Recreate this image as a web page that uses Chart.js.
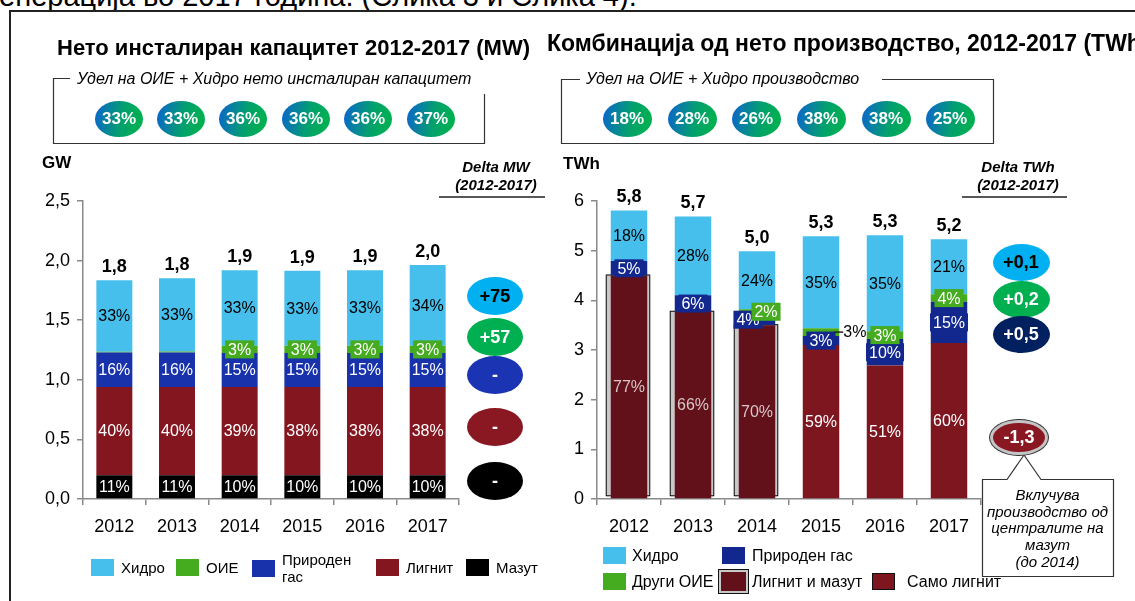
<!DOCTYPE html>
<html>
<head>
<meta charset="utf-8">
<title>Капацитет и производство 2012-2017</title>
<script src="https://cdn.jsdelivr.net/npm/chart.js@4.4.1/dist/chart.umd.min.js"></script>
<style>
  body { margin:0; width:1135px; height:601px; overflow:hidden; position:relative; background:#fff;
         font-family:"Liberation Sans", Arial, sans-serif; color:#000; }
  .abs { position:absolute; white-space:nowrap; }
  #lines { position:absolute; left:0; top:0; }
  .title { font-weight:bold; font-size:22px; line-height:26px; }
  .boxlabel { font-style:italic; font-size:16px; line-height:18px; }
  .unit { font-weight:bold; font-size:17px; }
  .delta-head { font-weight:bold; font-style:italic; font-size:15px; text-align:center; line-height:18px; width:130px; }
  .oval { position:absolute; box-sizing:border-box; border-radius:50%; display:flex; align-items:center;
          justify-content:center; font-weight:bold; }
  .leg { position:absolute; display:flex; align-items:center; white-space:nowrap; }
  .sw { display:inline-block; width:23px; height:17px; box-sizing:border-box; }
  .note { font-style:italic; font-size:15px; line-height:16.7px; text-align:center; width:131px; }
  canvas { position:absolute; }
</style>
</head>
<body>
<div class="abs" style="left:-1px;top:-18px;font-size:29px;line-height:29px;">енерација во 2017 година. (Слика 3 и Слика 4).</div>

<canvas id="capChart" width="560" height="400" style="left:0;top:150px;"></canvas>
<canvas id="genChart" width="600" height="400" style="left:510px;top:150px;"></canvas>

<svg id="lines" width="1135" height="601">
  <path d="M9 11 H1135 M10 11 V601" stroke="#222" stroke-width="2" fill="none"/>
  <path d="M70 78.5 H53.5 V143.5 H484.5 V94" stroke="#333" stroke-width="1.2" fill="none"/>
  <path d="M580 79.5 H561.5 V143.5 H993.5 V79.5 H882" stroke="#333" stroke-width="1.2" fill="none"/>
  <path d="M439 197 H545 M962 197 H1067" stroke="#222" stroke-width="1.5"/>
  <path d="M982.5 479.5 H1007 L1024 455 L1041 479.5 H1113.5 V576.5 H982.5 Z" stroke="#333" stroke-width="1.2" fill="#fff"/>
</svg>

<div class="abs title" style="left:57px;top:35px;">Нето инсталиран капацитет 2012-2017 (MW)</div>
<div class="abs title" style="left:547px;top:30px;font-size:23px;">Комбинација од нето производство, 2012-2017 (TWh)</div>
<div class="abs boxlabel" style="left:77px;top:70px;">Удел на ОИЕ + Хидро нето инсталиран капацитет</div>
<div class="abs boxlabel" style="left:586px;top:70px;">Удел на ОИЕ + Хидро производство</div>
<div class="abs unit" style="left:42px;top:153px;">GW</div>
<div class="abs unit" style="left:563px;top:154px;">TWh</div>
<div class="abs delta-head" style="left:431px;top:158px;">Delta MW<br>(2012-2017)</div>
<div class="abs delta-head" style="left:953px;top:158px;">Delta TWh<br>(2012-2017)</div>
<div class="abs note" style="left:982px;top:487px;">Вклучува<br>производство од<br>централите на<br>мазут<br>(до 2014)</div>

<script>
// ---- data: net installed capacity (GW)
const years = ['2012', '2013', '2014', '2015', '2016', '2017'];
const capTickLabels = ['0,0', '0,5', '1,0', '1,5', '2,0', '2,5'];
const capMazut   = [0.20, 0.20, 0.20, 0.20, 0.20, 0.20];
const capLignite = [0.74, 0.74, 0.74, 0.74, 0.74, 0.74];
const capGas     = [0.29, 0.29, 0.285, 0.285, 0.285, 0.285];
const capOie     = [0.005, 0.007, 0.06, 0.06, 0.06, 0.06];
const capHydro   = [0.60, 0.615, 0.635, 0.63, 0.635, 0.678];
const capMazutPct   = ['11%', '11%', '10%', '10%', '10%', '10%'];
const capLignitePct = ['40%', '40%', '39%', '38%', '38%', '38%'];
const capGasPct     = ['16%', '16%', '15%', '15%', '15%', '15%'];
const capOiePct     = [null, null, '3%', '3%', '3%', '3%'];
const capHydroPct   = ['33%', '33%', '33%', '33%', '33%', '34%'];
const capTotals = ['1,8', '1,8', '1,9', '1,9', '1,9', '2,0'];
const capShare  = ['33%', '33%', '36%', '36%', '36%', '37%'];
const capDelta  = ['+75', '+57', '-', '-', '-'];

// ---- data: net generation (TWh)
const genTickLabels = ['0', '1', '2', '3', '4', '5', '6'];
const genLigMazut = [4.50, 3.77, 3.50, null, null, null];
const genLignite  = [null, null, null, 3.10, 2.69, 3.14];
const genGas      = [0.29, 0.33, 0.22, 0.18, 0.53, 0.83];
const genOie      = [0.00, 0.00, 0.10, 0.16, 0.16, 0.15];
const genHydro    = [1.02, 1.59, 1.17, 1.85, 1.93, 1.11];
const genLigMazutPct = ['77%', '66%', '70%', null, null, null];
const genLignitePct  = [null, null, null, '59%', '51%', '60%'];
const genGasPct      = ['5%', '6%', '4%', '3%', '10%', '15%'];
const genOiePct      = [null, null, '2%', '3%', '3%', '4%'];
const genHydroPct    = ['18%', '28%', '24%', '35%', '35%', '21%'];
const genTotals = ['5,8', '5,7', '5,0', '5,3', '5,3', '5,2'];
const genShare  = ['18%', '28%', '26%', '38%', '38%', '25%'];
const genDelta  = ['+0,1', '+0,2', '+0,5', '-1,3'];

const col = {
  hydro: '#46bfec', oie: '#45ab1f', gasL: '#1732ab', lignL: '#841620', mazut: '#000000',
  gasR: '#13288e', ligR: '#7e1620', ligMaz: '#62101a', gray: '#c8c8c8'
};
const FONT = '"Liberation Sans", Arial, sans-serif';

// labels inside the stacked segments + totals on top
const segmentLabels = {
  id: 'segmentLabels',
  afterDatasetsDraw(chart) {
    const ctx = chart.ctx;
    ctx.save();
    ctx.textAlign = 'center';
    ctx.textBaseline = 'middle';
    ctx.font = '16px ' + FONT;
    chart.data.datasets.forEach((ds, di) => {
      const st = ds.labelStyle || {};
      chart.getDatasetMeta(di).data.forEach((bar, i) => {
        const txt = ds.pctLabels && ds.pctLabels[i];
        if (!txt) return;
        const nudge = (st.nudge && st.nudge[i]) || [0, 0];
        const x = bar.x + nudge[0];
        const y = (bar.y + bar.base) / 2 + nudge[1];
        if (st.outside && st.outside[i]) {
          const r = bar.x + bar.width / 2;
          ctx.strokeStyle = '#222';
          ctx.lineWidth = 1.5;
          ctx.beginPath(); ctx.moveTo(r - 5, y); ctx.lineTo(r + 4, y); ctx.stroke();
          ctx.fillStyle = '#000';
          ctx.textAlign = 'left';
          ctx.fillText(txt, r + 4, y);
          ctx.textAlign = 'center';
          return;
        }
        if (st.box) {
          const w = ctx.measureText(txt).width + 6;
          ctx.fillStyle = st.box;
          ctx.fillRect(x - w / 2, y - 9, w, 18);
        }
        ctx.fillStyle = st.color || '#000';
        ctx.fillText(txt, x, y + 1);
      });
    });
    const totals = chart.options.plugins.segmentLabels.totals;
    ctx.font = 'bold 18px ' + FONT;
    ctx.fillStyle = '#000';
    years.forEach((y, i) => {
      let top = Infinity, x = 0;
      chart.data.datasets.forEach((ds, di) => {
        const bar = chart.getDatasetMeta(di).data[i];
        if (ds.data[i] != null && bar.y < top) { top = bar.y; x = bar.x; }
      });
      ctx.fillText(totals[i], x, top - 13);
    });
    ctx.restore();
  }
};

// grey framed box behind the "lignite and mazut" bars
const shadowBox = {
  id: 'shadowBox',
  beforeDatasetsDraw(chart) {
    const ctx = chart.ctx;
    chart.data.datasets.forEach((ds, di) => {
      if (!ds.shadowBox) return;
      chart.getDatasetMeta(di).data.forEach((bar, i) => {
        if (ds.data[i] == null) return;
        const l = bar.x - bar.width / 2 - 5, t = bar.y - 1;
        const w = bar.width + 8, h = bar.base - 2 - t;
        ctx.save();
        ctx.fillStyle = col.gray;
        ctx.fillRect(l, t, w, h);
        ctx.strokeStyle = '#111';
        ctx.lineWidth = 1;
        ctx.strokeRect(l + 0.5, t + 0.5, w - 1, h - 1);
        ctx.restore();
      });
    });
  }
};

function axes(max, step, tickLabels, yWidth) {
  return {
    x: {
      stacked: true,
      grid: { drawOnChartArea: false, tickLength: 6, color: '#8a8a8a', lineWidth: 1.5 },
      border: { color: '#8a8a8a', width: 1.5 },
      ticks: { color: '#000', font: { size: 18, family: FONT }, padding: 11 },
      afterFit(s) { s.height = 51; }
    },
    y: {
      stacked: true, min: 0, max: max,
      grid: { drawOnChartArea: false, tickLength: 6, color: '#8a8a8a', lineWidth: 1.5 },
      border: { color: '#8a8a8a', width: 1.5 },
      ticks: { stepSize: step, color: '#000', font: { size: 18, family: FONT }, padding: 7,
               callback: (v, i) => tickLabels[i] },
      afterFit(s) { s.width = yWidth; }
    }
  };
}

function bar(label, data, color, pct, style, pctBar) {
  return { label: label, data: data, backgroundColor: color, pctLabels: pct, labelStyle: style,
           barPercentage: pctBar, categoryPercentage: 1, borderWidth: 0 };
}

new Chart(document.getElementById('capChart'), {
  type: 'bar',
  data: {
    labels: years,
    datasets: [
      bar('Мазут', capMazut, col.mazut, capMazutPct, { color: '#fff' }, 0.574),
      bar('Лигнит', capLignite, col.lignL, capLignitePct, { color: '#fff' }, 0.574),
      bar('Природен гас', capGas, col.gasL, capGasPct, { color: '#fff' }, 0.574),
      bar('ОИЕ', capOie, col.oie, capOiePct, { color: '#fff', box: col.oie }, 0.574),
      bar('Хидро', capHydro, col.hydro, capHydroPct, { color: '#000' }, 0.574)
    ]
  },
  options: {
    responsive: false, animation: false,
    layout: { padding: { top: 51, right: 101, left: 0, bottom: 0 } },
    scales: axes(2.5, 0.5, capTickLabels, 83),
    plugins: { legend: { display: false }, tooltip: { enabled: false }, segmentLabels: { totals: capTotals } }
  },
  plugins: [segmentLabels]
});

const ligMazDs = bar('Лигнит и мазут', genLigMazut, col.ligMaz, genLigMazutPct, { color: '#d8c6c6' }, 0.57);
ligMazDs.shadowBox = true;
new Chart(document.getElementById('genChart'), {
  type: 'bar',
  data: {
    labels: years,
    datasets: [
      ligMazDs,
      bar('Само лигнит', genLignite, col.ligR, genLignitePct, { color: '#fff' }, 0.57),
      bar('Природен гас', genGas, col.gasR, genGasPct, { color: '#fff', box: col.gasR, nudge: { 2: [-9, 0] } }, 0.57),
      bar('Други ОИЕ', genOie, col.oie, genOiePct, { color: '#fff', box: col.oie, nudge: { 2: [9, 0] }, outside: { 3: true } }, 0.57),
      bar('Хидро', genHydro, col.hydro, genHydroPct, { color: '#000' }, 0.57)
    ]
  },
  options: {
    responsive: false, animation: false,
    layout: { padding: { top: 51, right: 129, left: 0, bottom: 0 } },
    scales: axes(6, 1, genTickLabels, 87),
    plugins: { legend: { display: false }, tooltip: { enabled: false }, segmentLabels: { totals: genTotals } }
  },
  plugins: [shadowBox, segmentLabels]
});

// ---- ovals (share of RES + hydro, deltas)
function addOval(cx, cy, w, h, text, bg, fg, size, extra) {
  const d = document.createElement('div');
  d.className = 'oval';
  d.style.cssText = 'left:' + (cx - w / 2) + 'px;top:' + (cy - h / 2) + 'px;width:' + w + 'px;height:' + h +
    'px;background:' + bg + ';color:' + fg + ';font-size:' + size + 'px;' + (extra || '');
  d.textContent = text;
  document.body.appendChild(d);
}
const shareGrad = 'linear-gradient(100deg, #0a6cc2 8%, #03a06e 55%, #00b050 90%)';
const capShareX = [119, 181, 243, 306, 368, 431];
const genShareX = [627, 692, 756, 821, 886, 950];
capShare.forEach((t, i) => addOval(capShareX[i], 119, 48, 36, t, shareGrad, '#fff', 17));
genShare.forEach((t, i) => addOval(genShareX[i], 119, 49, 36, t, shareGrad, '#fff', 17));

const capDeltaY = [296, 337, 375, 427, 481];
const capDeltaCol = ['#00b0f0', '#00b050', '#1a34b4', '#8a1822', '#000000'];
const capDeltaFg = ['#000', '#fff', '#fff', '#fff', '#fff'];
capDelta.forEach((t, i) => addOval(495, capDeltaY[i], 56, 38, t, capDeltaCol[i], capDeltaFg[i], 18));

const genDeltaPos = [[1021, 262], [1021, 299], [1021, 334], [1019, 437]];
const genDeltaCol = ['#00b0f0', '#00b050', '#002060', '#8a1822'];
const genDeltaFg = ['#000', '#fff', '#fff', '#fff'];
genDelta.forEach((t, i) => addOval(genDeltaPos[i][0], genDeltaPos[i][1], i === 3 ? 58 : 57, i === 3 ? 35 : 37,
  t, genDeltaCol[i], genDeltaFg[i], 18, i === 3 ? 'border:3px solid #c4c4c4;box-shadow:0 0 0 1px #333;' : ''));

// ---- legends
function addLegend(x, cy, swatch, text, size, gap) {
  const d = document.createElement('div');
  d.className = 'leg';
  d.style.cssText = 'left:' + x + 'px;top:' + (cy - 15) + 'px;height:30px;font-size:' + size + 'px;';
  d.innerHTML = swatch + '<span style="margin-left:' + gap + 'px;line-height:17px;">' + text + '</span>';
  document.body.appendChild(d);
}
const sw = (c, extra) => '<span class="sw" style="background:' + c + ';' + (extra || '') + '"></span>';
addLegend(91, 567, sw(col.hydro), 'Хидро', 15, 7);
addLegend(176, 567, sw(col.oie), 'ОИЕ', 15, 7);
addLegend(252, 568, sw(col.gasL), 'Природен<br>гас', 15, 7);
addLegend(376, 567, sw(col.lignL), 'Лигнит', 15, 7);
addLegend(466, 567, sw(col.mazut), 'Мазут', 15, 7);

addLegend(603, 555, sw(col.hydro), 'Хидро', 16, 6);
addLegend(722, 555, sw(col.gasR), 'Природен гас', 16, 7);
addLegend(603, 581, sw(col.oie), 'Други ОИЕ', 16, 6);
addLegend(718, 581, sw(col.ligMaz, 'width:31px;height:25px;border:3px solid ' + col.gray + ';outline:1px solid #111;outline-offset:-1px;'), 'Лигнит и мазут', 16, 3);
addLegend(872, 581, sw(col.ligR, 'border:1px solid #111;'), 'Само лигнит', 16, 12);
</script>
</body>
</html>
